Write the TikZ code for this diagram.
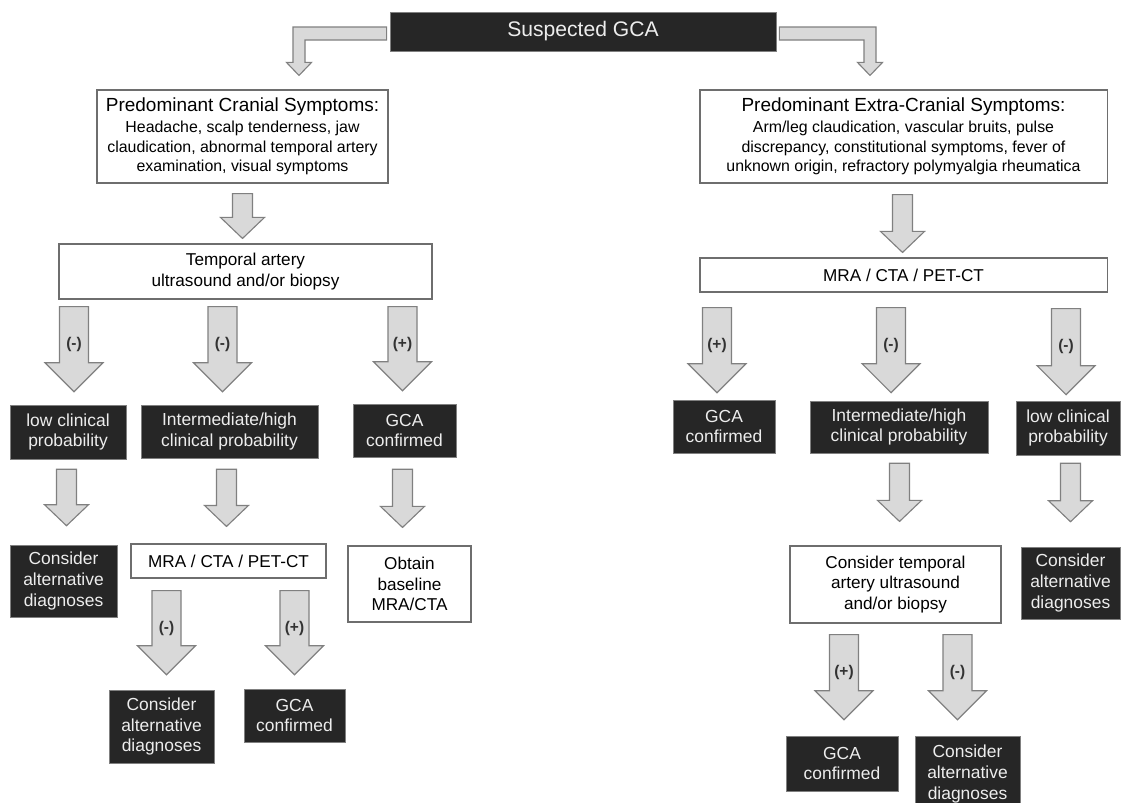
\documentclass[tikz,border=0pt]{standalone}
\usepackage{fontspec}
\setmainfont{Liberation Sans}
\usepackage{tikz}
\usetikzlibrary{positioning, calc}

\definecolor{boxdark}{HTML}{262626}
\definecolor{arrowfill}{HTML}{D9D9D9}
\definecolor{arrowedge}{HTML}{808080}
\definecolor{linegray}{HTML}{6E6E6E}
\definecolor{textlight}{HTML}{EDEDED}

% fat block arrow: from, to, x shift, tail gap, tip gap, stem half width, head half width, head length
\newcommand{\blockarrow}[8]{%
	\coordinate (ta) at ($(#1.south -| #2.north)+(#3,#4)$);
	\coordinate (tb) at ($(#2.north)+(#3,-#5)$);
	\draw[blockarr] ($(ta)+(-#6,0)$) -- ($(tb)+(-#6,-#8)$) -- ($(tb)+(-#7,-#8)$) -- (tb)
		-- ($(tb)+(#7,-#8)$) -- ($(tb)+(#6,-#8)$) -- ($(ta)+(#6,0)$) -- cycle;}
\newcommand{\bigarrow}[6]{%
	\blockarrow{#1}{#2}{#3}{#4}{#5}{14.5}{29}{29}
	\node[sign] (#2-sign) at ($(ta)+(0,38)$) {#6};}
\newcommand{\smallarrow}[5]{\blockarrow{#1}{#2}{#3}{#4}{#5}{10}{22}{21}}

\begin{document}
\begin{tikzpicture}[
	x=0.025cm, y=-0.025cm,
	darkbox/.style={rectangle, draw=arrowedge, fill=boxdark, text=textlight, align=center, inner sep=0pt,
		font=\fontsize{12.4}{14.6}\selectfont},
	lightbox/.style={rectangle, draw=linegray, line width=0.8pt, fill=white, align=center, inner sep=0pt,
		font=\fontsize{12.2}{14.8}\selectfont},
	symbox/.style={lightbox, font=\fontsize{11.3}{13.8}\selectfont},
	blockarr/.style={draw=arrowedge, fill=arrowfill, line width=0.8pt},
	sign/.style={font=\bfseries\fontsize{11}{13}\selectfont, text=black!80}
	]
	\useasboundingbox (0,0) rectangle (1122,802);

	% Top
	\node (gca) [darkbox, minimum width=9.65cm, minimum height=0.975cm, font=\fontsize{15}{18}\selectfont] at (583,31.5) {Suspected GCA};
	\node (cranial) [symbox, minimum width=7.275cm, minimum height=2.325cm] at (242.5,136.5)
		{{\fontsize{13.5}{16}\selectfont Predominant Cranial Symptoms:}\\[1pt]
		Headache, scalp tenderness, jaw\\claudication, abnormal temporal artery\\examination, visual symptoms};
	\node (extra) [symbox, minimum width=10.175cm, minimum height=2.325cm] at (903.5,136.5)
		{{\fontsize{13.5}{16}\selectfont Predominant Extra-Cranial Symptoms:}\\[1pt]
		Arm/leg claudication, vascular bruits, pulse\\discrepancy, constitutional symptoms, fever of\\unknown origin, refractory polymyalgia rheumatica};
	\coordinate (lbend) at (299,33.5);
	\coordinate (rbend) at (870,33.5);

	% Cranial branch
	\node (tabx) [lightbox, minimum width=9.325cm, minimum height=1.375cm] at (245.5,271.5) {Temporal artery\\ultrasound and/or biopsy};
	\node (lowL) [darkbox, minimum width=2.9cm, minimum height=1.35cm] at (68,432) {low clinical\\probability};
	\node (intL) [darkbox, minimum width=4.425cm, minimum height=1.325cm] at (229.5,431.5) {Intermediate/high\\clinical probability};
	\node (gcaL) [darkbox, minimum width=2.575cm, minimum height=1.325cm] at (404.5,430.5) {GCA\\confirmed};
	\node (altL1) [darkbox, minimum width=2.675cm, minimum height=1.8cm] at (63.5,581) {Consider\\alternative\\diagnoses};
	\node (imgL) [lightbox, minimum width=4.875cm, minimum height=0.85cm] at (228.5,561) {MRA / CTA / PET-CT};
	\node (base) [lightbox, minimum width=3.075cm, minimum height=1.9cm] at (409.5,584) {Obtain\\baseline\\MRA/CTA};
	\node (altL2) [darkbox, minimum width=2.625cm, minimum height=1.825cm] at (161.5,726.5) {Consider\\alternative\\diagnoses};
	\node (gcaL2) [darkbox, minimum width=2.525cm, minimum height=1.325cm] at (294.5,715.5) {GCA\\confirmed};

	% Extra-cranial branch
	\node (imgR) [lightbox, minimum width=10.175cm, minimum height=0.85cm] at (903.5,275) {MRA / CTA / PET-CT};
	\node (gcaR) [darkbox, minimum width=2.55cm, minimum height=1.325cm] at (724,426.5) {GCA\\confirmed};
	\node (intR) [darkbox, minimum width=4.45cm, minimum height=1.3cm] at (899,427) {Intermediate/high\\clinical probability};
	\node (lowR) [darkbox, minimum width=2.6cm, minimum height=1.35cm] at (1068,428) {low clinical\\probability};
	\node (ctab) [lightbox, minimum width=5.275cm, minimum height=1.925cm] at (895.5,584.5) {Consider temporal\\artery ultrasound\\and/or biopsy};
	\node (altR1) [darkbox, minimum width=2.475cm, minimum height=1.8cm] at (1070.5,583) {Consider\\alternative\\diagnoses};
	\node (gcaR2) [darkbox, minimum width=2.8cm, minimum height=1.375cm] at (842,763.5) {GCA\\confirmed};
	\node (altR2) [darkbox, minimum width=2.625cm, minimum height=1.9cm] at (967.5,774) {Consider\\alternative\\diagnoses};

	% Elbow arrows from the top box
	\draw[blockarr] ($(gca.west |- lbend)+(-3,-6.5)$) -- ($(lbend)+(-6,-6.5)$) -- ($(lbend |- cranial.north)+(-6,-27)$)
		-- ($(lbend |- cranial.north)+(-12.5,-27)$) -- ($(lbend |- cranial.north)+(0,-14)$) -- ($(lbend |- cranial.north)+(12.5,-27)$)
		-- ($(lbend |- cranial.north)+(6,-27)$) -- ($(lbend)+(6,6.5)$) -- ($(gca.west |- lbend)+(-3,6.5)$) -- cycle;
	\draw[blockarr] ($(gca.east |- rbend)+(3,-6.5)$) -- ($(rbend)+(6,-6.5)$) -- ($(rbend |- extra.north)+(6,-27)$)
		-- ($(rbend |- extra.north)+(12.5,-27)$) -- ($(rbend |- extra.north)+(0,-14)$) -- ($(rbend |- extra.north)+(-12.5,-27)$)
		-- ($(rbend |- extra.north)+(-6,-27)$) -- ($(rbend)+(-6,6.5)$) -- ($(gca.east |- rbend)+(3,6.5)$) -- cycle;

	% Arrows cranial
	\smallarrow{cranial}{tabx}{-3}{10}{5}
	\bigarrow{tabx}{lowL}{6}{7}{13}{(-)}
	\bigarrow{tabx}{intL}{-7}{7}{13}{(-)}
	\bigarrow{tabx}{gcaL}{-2}{7}{13}{(+)}
	\smallarrow{lowL}{altL1}{3}{10}{19}
	\smallarrow{intL}{imgL}{-2}{11}{17}
	\smallarrow{gcaL}{base}{-7}{12}{18}
	\bigarrow{imgL}{altL2}{5}{12}{15}{(-)}
	\bigarrow{imgL}{gcaL2}{0}{12}{14}{(+)}

	% Arrows extra-cranial
	\smallarrow{extra}{imgR}{-1}{11}{5}
	\bigarrow{imgR}{gcaR}{-7}{15}{7}{(+)}
	\bigarrow{imgR}{intR}{-8}{15}{8}{(-)}
	\bigarrow{imgR}{lowR}{-2}{16}{6}{(-)}
	\smallarrow{intR}{ctab}{4}{10}{24}
	\smallarrow{lowR}{altR1}{0}{8}{25}
	\bigarrow{ctab}{gcaR2}{2}{11}{16}{(+)}
	\bigarrow{ctab}{altR2}{-10}{11}{16}{(-)}
\end{tikzpicture}
\end{document}
